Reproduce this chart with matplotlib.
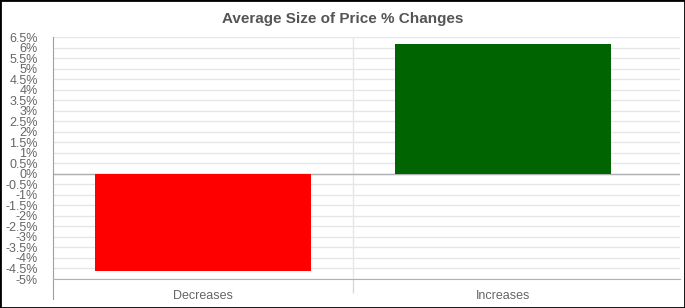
import matplotlib.pyplot as plt
import numpy as np

categories = ['Decreases', 'Increases']
values = [-4.62, 6.18]
colors = ['#ff0000', '#006400']
y_ticks = [-5, -4.5, -4, -3.5, -3, -2.5, -2, -1.5, -1, -0.5, 0, 0.5, 1, 1.5, 2,
           2.5, 3, 3.5, 4, 4.5, 5, 5.5, 6, 6.5]

plt.rcParams['font.family'] = ['Liberation Sans', 'DejaVu Sans']

fig = plt.figure(figsize=(6.85, 3.08), dpi=100)
W, H = 685, 308
ax = fig.add_axes([53 / W, 1 - 279 / H, (680 - 53) / W, (279 - 37) / H])

x = np.arange(len(categories))
ax.bar(x, values, width=0.72, color=colors, zorder=3)

ax.set_ylim(-5, 6.5)
ax.set_xlim(-0.5, -0.5 + (680 - 53) / 300)
ax.set_yticks(y_ticks)
ax.set_yticklabels(['%g%%' % t for t in y_ticks])
ax.set_xticks(x)
ax.set_xticklabels(categories)
ax.set_xticks([0.5], minor=True)

ax.tick_params(axis='y', length=0, labelsize=9, labelcolor='#666666', pad=11)
ax.tick_params(axis='x', which='major', length=0, labelsize=9, labelcolor='#666666', pad=8)
ax.tick_params(axis='x', which='minor', length=10, color='#d9d9d9', width=1)

ax.grid(axis='y', color='#e6e6e6', linewidth=1, zorder=0)
ax.grid(axis='x', which='minor', color='#e6e6e6', linewidth=1, zorder=0)
ax.axhline(0, color='#b0b0b0', linewidth=1, zorder=2)

for s in ['top', 'right']:
    ax.spines[s].set_visible(False)
ax.spines['left'].set_color('#a0a0a0')
ax.spines['bottom'].set_color('#b0b0b0')
ax.spines['left'].set_bounds(-5.95, 6.5)

ax.set_title('Average Size of Price % Changes', fontsize=11, fontweight='bold',
             color='#555555', pad=10, x=(343 - 53) / (680 - 53))

fig.patches.append(plt.Rectangle((0, 0), 1, 1, transform=fig.transFigure,
                                 fill=False, edgecolor='black', linewidth=2))

plt.savefig('out.png', dpi=100)
plt.close()
